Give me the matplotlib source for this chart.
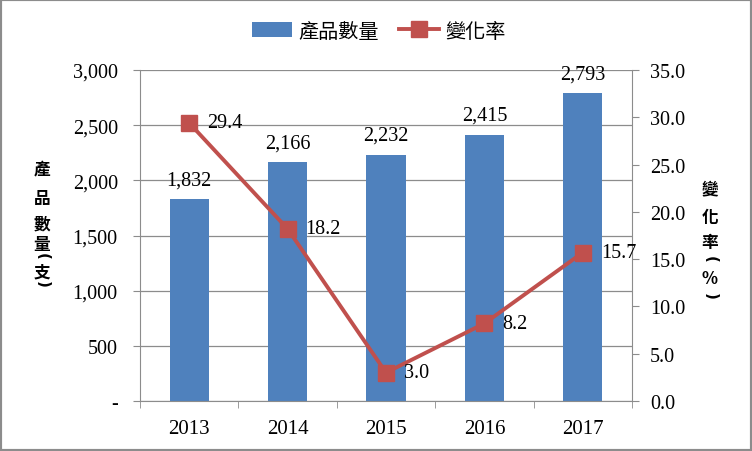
import numpy as np
import matplotlib
matplotlib.use("Agg")
import matplotlib.pyplot as plt
from matplotlib.ticker import FuncFormatter, FixedLocator

years = ["2013", "2014", "2015", "2016", "2017"]
quantity = [1832, 2166, 2232, 2415, 2793]
change_rate = [29.4, 18.2, 3.0, 8.2, 15.7]

bar_color = "#4F81BD"
line_color = "#C0504D"
grey = "#8C8C8C"
serif = "Liberation Serif"
cjk = ["Noto Sans CJK TC", "DejaVu Sans"]

fig = plt.figure(figsize=(7.52, 4.52), dpi=100)
ax = fig.add_axes([140 / 752, 1 - 402 / 452, (632 - 140) / 752, (402 - 71) / 452])
ax2 = ax.twinx()

x = np.arange(len(years))
bars = ax.bar(x, quantity, width=0.4, color=bar_color, zorder=2, label="產品數量")
ax.set_xlim(-0.5, len(years) - 0.5)
ax.set_ylim(0, 3000)
ax.set_yticks(np.arange(0, 3001, 500))
ax.yaxis.set_major_formatter(FuncFormatter(lambda v, p: "-" if v == 0 else f"{int(v):,}"))
ax.set_xticks(x)
ax.set_xticklabels(years)
ax.xaxis.set_minor_locator(FixedLocator(np.arange(-0.5, len(years), 1.0)))
ax.tick_params(axis="x", which="major", length=0, pad=13)
ax.tick_params(axis="x", which="minor", length=5, color=grey)
ax.tick_params(axis="y", length=5, color=grey, pad=11)
ax.grid(axis="y", color=grey, linewidth=0.9, zorder=0)
ax.set_axisbelow(True)
for s in ["top", "right"]:
    ax.spines[s].set_visible(False)
for s in ["left", "bottom"]:
    ax.spines[s].set_color(grey)

# 數量標籤
for b, v in zip(bars, quantity):
    ax.annotate(f"{v:,}", (b.get_x() + b.get_width() / 2, v), xytext=(0, 7),
                textcoords="offset points", ha="center", va="bottom",
                fontsize=14.5, family=serif)

line, = ax2.plot(x, change_rate, color=line_color, linewidth=2.8, marker="s",
                 markersize=12, zorder=3, label="變化率")
ax2.set_ylim(0, 35)
ax2.set_yticks(np.arange(0, 35.1, 5))
ax2.yaxis.set_major_formatter(FuncFormatter(lambda v, p: f"{v:.1f}"))
ax2.tick_params(axis="y", length=5, color=grey, pad=8)
for s in ["top", "left", "bottom"]:
    ax2.spines[s].set_visible(False)
ax2.spines["right"].set_color(grey)
for xi, v in zip(x, change_rate):
    ax2.annotate(f"{v:.1f}", (xi, v), xytext=(13, 0), textcoords="offset points",
                 ha="left", va="center", fontsize=14.5, family=serif)

for lab in ax.get_yticklabels() + ax2.get_yticklabels():
    lab.set_fontfamily(serif)
    lab.set_fontsize(14.5)
for lab in ax.get_xticklabels():
    lab.set_fontfamily(serif)
    lab.set_fontsize(15)


def vertical_title(xpix, chars, ys):
    # 直排標題: 括號用旋轉的半形括號
    for ch, yy in zip(chars, ys):
        if ch in "()":
            fig.text(xpix / 752, 1 - yy / 452, ch, ha="center", va="center", rotation=-90,
                     fontsize=11, fontweight="bold", family="DejaVu Sans")
        else:
            fig.text(xpix / 752, 1 - (yy + 2) / 452, ch, ha="center", va="center",
                     fontsize=12, fontweight="bold", family=cjk)


vertical_title(42, ["產", "品", "數", "量", "(", "支", ")"],
               [168, 197, 222, 243, 256, 270, 284])
vertical_title(710, ["變", "化", "率", "(", "%", ")"],
               [187, 216, 241, 259, 277, 296])

fig.legend(handles=[bars, line], loc="center", bbox_to_anchor=(379 / 752, 1 - 32 / 452),
           ncol=2, frameon=False, prop={"family": cjk, "size": 14.5},
           handlelength=2.0, columnspacing=1.0, handletextpad=0.3)

fig.patches.append(plt.Rectangle((0, 0), 1, 1, transform=fig.transFigure, fill=False,
                                 edgecolor=grey, linewidth=3))
fig.savefig("out.png", dpi=100)
